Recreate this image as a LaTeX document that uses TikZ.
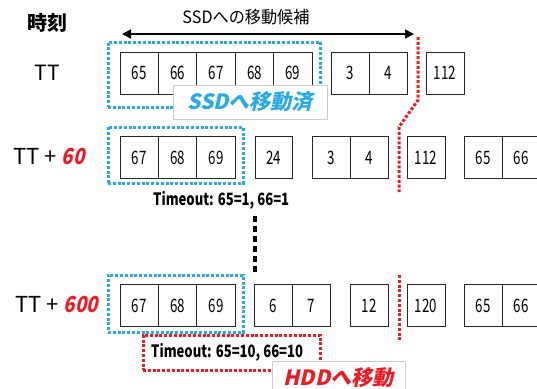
\documentclass[tikz,border=0pt]{standalone}
\usepackage{fontspec}
\setmainfont{Noto Sans CJK JP}
\newfontfamily\numf[FakeStretch=0.72]{Noto Sans CJK JP}
\newfontfamily\condf[FakeStretch=0.95]{Noto Sans CJK JP}
\newfontfamily\toutf[FakeStretch=0.77]{Noto Sans CJK JP}
\newfontfamily\slf[FakeSlant=0.22]{Noto Sans CJK JP}
\newfontfamily\slcf[FakeSlant=0.22,FakeStretch=0.85]{Noto Sans CJK JP}
\usetikzlibrary{arrows.meta}
\definecolor{sblue}{RGB}{41,171,226}
\definecolor{sred}{RGB}{237,28,36}
\tikzset{
  cell/.style={draw=black!85, line width=1pt, minimum width=38.4pt, minimum height=42pt,
    inner sep=0pt, fill=white, font=\numf\fontsize{18.5}{20}\selectfont},
  bluebox/.style={draw=sblue, line width=3pt, dash pattern=on 3pt off 1.8pt, inner sep=0pt},
  redbox/.style={draw=sred, line width=3pt, dash pattern=on 3pt off 1.8pt, inner sep=0pt},
  redline/.style={draw=sred, line width=3pt, dash pattern=on 3pt off 1.8pt},
  blackline/.style={draw=black, line width=4pt, dash pattern=on 6pt off 4pt},
  tag/.style={draw=black!20, line width=1pt, fill=white, inner sep=0pt},
  timelbl/.style={anchor=west, inner sep=0pt},
  tout/.style={anchor=west, inner sep=0pt, font=\toutf\bfseries\fontsize{17}{19}\selectfont},
}
\begin{document}
\begin{tikzpicture}[x=1pt,y=-1pt]
\useasboundingbox (0,0) rectangle (537,388);
\clip (0,0) rectangle (537,388);

% header
\node[inner sep=0pt, font=\bfseries\fontsize{20}{22}\selectfont] (hdr) at (47,23) {時刻};
\node[inner sep=0pt, font=\condf\fontsize{17}{19}\selectfont] (cand) at (246,17) {SSDへの移動候補};
\coordinate (al) at (122,34);
\coordinate (ar) at (414,34);
\draw[line width=1.3pt, {Triangle[length=9pt,width=9pt]}-{Triangle[length=9pt,width=9pt]}] (al) -- (ar);

% time labels
\node[inner sep=0pt, font=\fontsize{21}{23}\selectfont] (t1) at (47,73) {TT};
\node[timelbl, font=\fontsize{22}{24}\selectfont] (t2) at (13,157) {TT + {\slcf\bfseries\color{sred}60}};
\node[timelbl, font=\fontsize{22}{24}\selectfont] (t3) at (15,305) {TT + {\slcf\bfseries\color{sred}600}};

% blue boxes
\node[bluebox, minimum width=212pt, minimum height=65pt] (b1) at (214,74.5) {};
\node[bluebox, minimum width=135pt, minimum height=56pt] (b2) at (175.5,155) {};
\node[bluebox, minimum width=135pt, minimum height=57pt] (b3) at (175.5,303.5) {};

% row 1
\node[cell] (a65) at (139.2,73) {65};
\node[cell] (a66) at (177.6,73) {66};
\node[cell] (a67) at (216,73) {67};
\node[cell] (a68) at (254.4,73) {68};
\node[cell] (a69) at (292.8,73) {69};
\node[cell, minimum width=38pt] (a3) at (350,73) {3};
\node[cell, minimum width=38pt] (a4) at (388,73) {4};
\node[cell, minimum width=38pt] (a112) at (445,73) {112};

% row 2
\node[cell] (b67) at (139.2,157.5) {67};
\node[cell] (b68) at (177.6,157.5) {68};
\node[cell] (b69) at (216,157.5) {69};
\node[cell, minimum width=37pt] (b24) at (273.5,157.5) {24};
\node[cell, minimum width=38pt] (b3c) at (331,157.5) {3};
\node[cell, minimum width=38pt] (b4c) at (369,157.5) {4};
\node[cell, minimum width=38pt] (b112) at (426,157.5) {112};
\node[cell, minimum width=38pt] (b65) at (483,157.5) {65};
\node[cell, minimum width=38pt] (b66) at (521,157.5) {66};

% row 3
\node[cell] (c67) at (139.2,305.5) {67};
\node[cell] (c68) at (177.6,305.5) {68};
\node[cell] (c69) at (216,305.5) {69};
\node[cell, minimum width=38pt] (c6) at (273.5,305.5) {6};
\node[cell, minimum width=38pt] (c7) at (311.5,305.5) {7};
\node[cell, minimum width=38pt] (c12) at (369,305.5) {12};
\node[cell, minimum width=38pt] (c120) at (426,305.5) {120};
\node[cell, minimum width=38pt] (c65) at (483,305.5) {65};
\node[cell, minimum width=38pt] (c66) at (521,305.5) {66};

% red boundary lines
\coordinate (r1) at (418,37);
\coordinate (r2) at (418,100);
\coordinate (r3) at (399,127);
\coordinate (r4) at (399,192);
\draw[redline] (r1) -- (r2) -- (r3) -- (r4);
\coordinate (r5) at (399,275);
\coordinate (r6) at (399,340);
\draw[redline] (r5) -- (r6);

% black dashed continuation
\coordinate (k1) at (255,216);
\coordinate (k2) at (255,272);
\draw[blackline] (k1) -- (k2);

% timeouts
\node[tout] (to1) at (153,200) {Timeout: 65=1, 66=1};
\node[redbox, minimum width=177pt, minimum height=35pt] (rb) at (231.5,352.5) {};
\node[tout] (to2) at (151,352) {Timeout: 65=10, 66=10};

% tags
\node[tag, minimum width=154pt, minimum height=34pt, font=\slf\bfseries\fontsize{21}{23}\selectfont, text=sblue] (ssd) at (250,102) {SSDへ移動済};
\node[tag, minimum width=133pt, minimum height=34pt, font=\slf\bfseries\fontsize{21}{23}\selectfont, text=sred] (hdd) at (338.5,378) {HDDへ移動};
\end{tikzpicture}
\end{document}
